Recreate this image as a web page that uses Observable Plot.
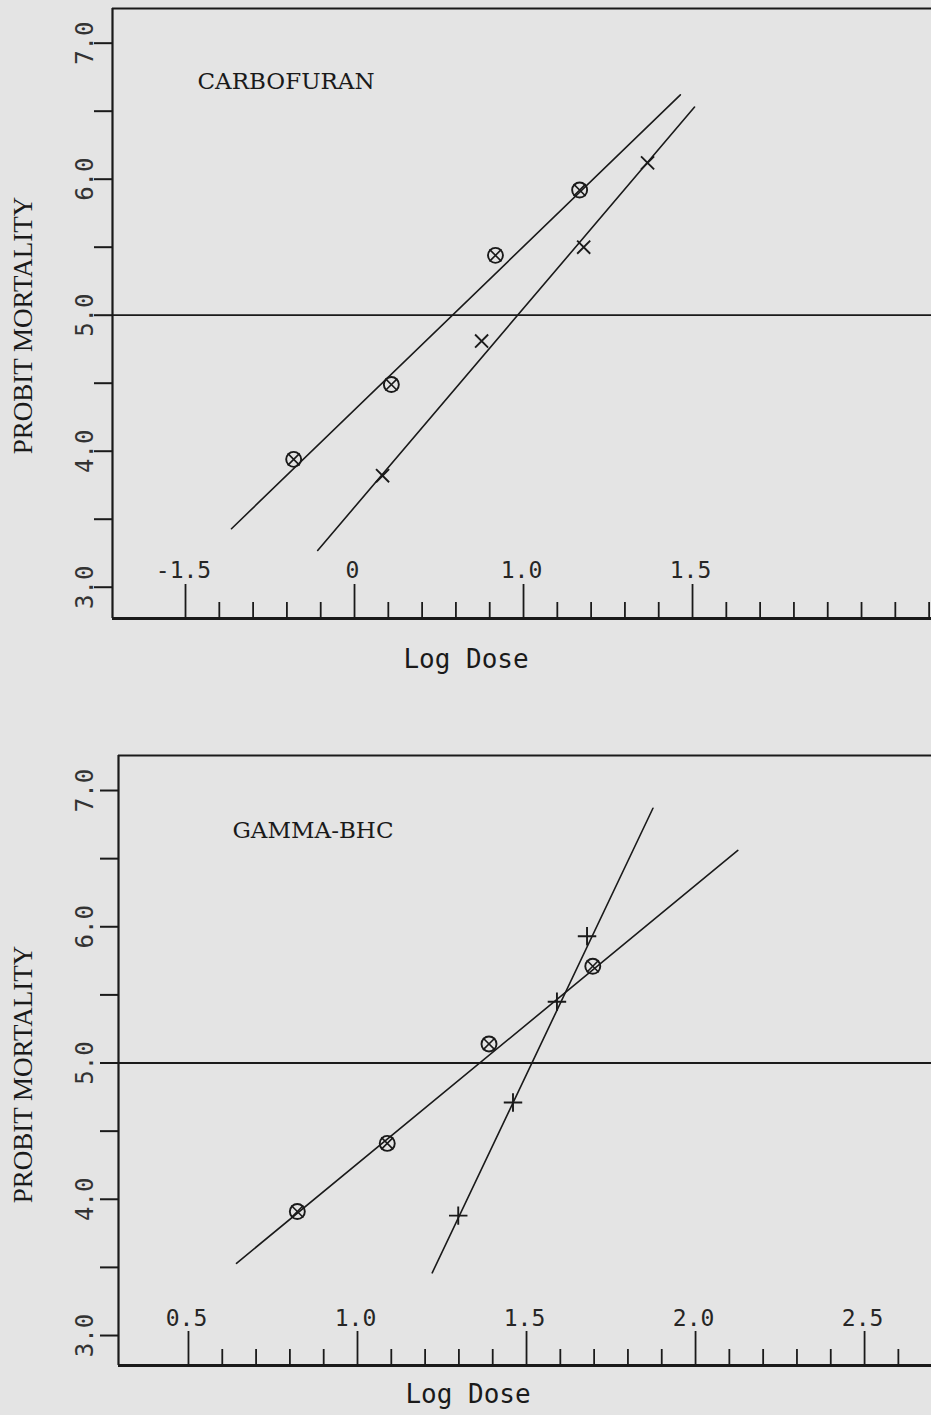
<!DOCTYPE html>
<html><head><meta charset="utf-8">
<script src="https://cdn.jsdelivr.net/npm/d3@7"></script>
<script src="https://cdn.jsdelivr.net/npm/@observablehq/plot@0.6"></script>
<style>
html,body{margin:0;padding:0;background:#e4e4e4;overflow:hidden;}
#page{position:relative;width:931px;height:1415px;overflow:hidden;background:#e4e4e4;}
.chart{position:absolute;left:0;}
</style></head><body>
<div id="page"><div id="top" class="chart" style="top:0px"></div><div id="bot" class="chart" style="top:700px"></div></div>
<script>
// ---------- CARBOFURAN (top chart) ----------
const carboTitle = "CARBOFURAN";
const carboCircleDose = [0.320, 0.609, 0.917, 1.166];
const carboCircleProbit = [3.94, 4.49, 5.44, 5.92];
const carboCrossDose = [0.583, 0.876, 1.178, 1.367];
const carboCrossProbit = [3.82, 4.81, 5.50, 6.12];
const carboCircleLineDose = [0.136, 1.464];
const carboCircleLineProbit = [3.43, 6.62];
const carboCrossLineDose = [0.391, 1.506];
const carboCrossLineProbit = [3.27, 6.53];
const carboXMajor = [0, 0.5, 1.0, 1.5];
const carboXLabels = ["-1.5", "0", "1.0", "1.5"];
const carboXMinor = [0.1,0.2,0.3,0.4,0.6,0.7,0.8,0.9,1.1,1.2,1.3,1.4,1.6,1.7,1.8,1.9,2.0,2.1,2.2];
const carboXDomain = [-0.216, 2.207];

// ---------- GAMMA-BHC (bottom chart) ----------
const bhcTitle = "GAMMA-BHC";
const bhcCircleDose = [0.822, 1.088, 1.389, 1.696];
const bhcCircleProbit = [3.91, 4.41, 5.14, 5.71];
const bhcCrossDose = [1.298, 1.460, 1.590, 1.679];
const bhcCrossProbit = [3.88, 4.71, 5.45, 5.93];
const bhcCircleLineDose = [0.642, 2.125];
const bhcCircleLineProbit = [3.53, 6.56];
const bhcCrossLineDose = [1.221, 1.874];
const bhcCrossLineProbit = [3.46, 6.87];
const bhcXMajor = [0.5, 1.0, 1.5, 2.0, 2.5];
const bhcXLabels = ["0.5", "1.0", "1.5", "2.0", "2.5"];
const bhcXMinor = [0.6,0.7,0.8,0.9,1.1,1.2,1.3,1.4,1.6,1.7,1.8,1.9,2.1,2.2,2.3,2.4,2.6];
const bhcXDomain = [0.293, 2.698];

// ---------- shared axis text ----------
const yTicks = [3.0,3.5,4.0,4.5,5.0,5.5,6.0,6.5,7.0];
const yMajor = [3, 4, 5, 6, 7];
const yLabels = ["3.0", "4.0", "5.0", "6.0", "7.0"];
const yAxisLabel = "PROBIT MORTALITY";
const xAxisLabel = "Log Dose";
const ink = "#1a1a1a";

function chart(cfg) {
  const H = cfg.height - cfg.mt - cfg.mb;
  return Plot.plot({
    width: 931, height: cfg.height,
    marginLeft: cfg.ml, marginRight: 0, marginTop: cfg.mt, marginBottom: cfg.mb,
    style: {background: "transparent", overflow: "visible"},
    x: {domain: cfg.xDomain, axis: null},
    y: {domain: cfg.yDomain, axis: null},
    marks: [
      // left ticks
      Plot.axisY({ticks: yTicks, tickSize: 18, tickFormat: () => "", stroke: ink, strokeWidth: 2, label: null}),
      Plot.text(yMajor, {y: d => d, text: (d, i) => yLabels[i], frameAnchor: "left", dx: cfg.ylDx, rotate: -90,
        textAnchor: "middle", lineAnchor: "middle", fontFamily: "DejaVu Sans Mono", fontSize: 24, fill: "#333"}),
      Plot.text([yAxisLabel], {text: d => d, frameAnchor: "left", dx: cfg.yTitleDx, dy: cfg.yTitleDy, rotate: -90,
        textAnchor: "middle", lineAnchor: "middle", fontFamily: "Liberation Serif", fontSize: 27, fill: ink}),
      // frame
      Plot.ruleX([cfg.xDomain[0]], {stroke: ink, strokeWidth: 2.2}),
      Plot.ruleY([cfg.yDomain[1]], {stroke: ink, strokeWidth: 2}),
      Plot.ruleY([cfg.yDomain[0]], {stroke: ink, strokeWidth: 3}),
      Plot.ruleY([5], {stroke: ink, strokeWidth: 1.8}),
      // bottom axis ticks (pointing up)
      Plot.ruleX(cfg.xMajor, {x: d => d, insetTop: H - 34, stroke: ink, strokeWidth: 1.8}),
      Plot.ruleX(cfg.xMinor, {x: d => d, insetTop: H - 16, stroke: ink, strokeWidth: 1.8}),
      Plot.text(cfg.xMajor, {x: d => d, text: (d, i) => cfg.xLabels[i], frameAnchor: "bottom", dy: cfg.xlDy, dx: -2,
        lineAnchor: "middle", fontFamily: "DejaVu Sans Mono", fontSize: 23, fill: "#262626"}),
      Plot.text([xAxisLabel], {text: d => d, frameAnchor: "bottom", dx: cfg.xTitleDx, dy: cfg.xTitleDy, lineAnchor: "top",
        fontFamily: "DejaVu Sans Mono", fontSize: 26, letterSpacing: "1px", fill: ink}),
      // title
      Plot.text([cfg.title], {text: d => d, frameAnchor: "top-left", dx: cfg.tDx, dy: cfg.tDy, textAnchor: "start",
        lineAnchor: "top", fontFamily: "DejaVu Serif", fontSize: 23, fill: ink}),
      // fitted lines
      Plot.line(cfg.circleLineDose, {x: cfg.circleLineDose, y: cfg.circleLineProbit, stroke: ink, strokeWidth: 1.6}),
      Plot.line(cfg.crossLineDose, {x: cfg.crossLineDose, y: cfg.crossLineProbit, stroke: ink, strokeWidth: 1.6}),
      // observed points
      Plot.dot(cfg.circleDose, {x: cfg.circleDose, y: cfg.circleProbit, r: 7.5, stroke: ink, strokeWidth: 1.9, fill: "none"}),
      Plot.dot(cfg.circleDose, {x: cfg.circleDose, y: cfg.circleProbit, symbol: "times", r: 5.5, stroke: ink, strokeWidth: 1.6}),
      Plot.dot(cfg.crossDose, {x: cfg.crossDose, y: cfg.crossProbit, symbol: cfg.crossSymbol, r: 6, stroke: ink, strokeWidth: 1.9})
    ]
  });
}

document.getElementById("top").append(chart({
  height: 700, ml: 112, mt: 8, mb: 82, xDomain: carboXDomain, yDomain: [2.77, 7.255],
  xMajor: carboXMajor, xMinor: carboXMinor, xLabels: carboXLabels, title: carboTitle,
  circleDose: carboCircleDose, circleProbit: carboCircleProbit, crossDose: carboCrossDose, crossProbit: carboCrossProbit,
  circleLineDose: carboCircleLineDose, circleLineProbit: carboCircleLineProbit,
  crossLineDose: carboCrossLineDose, crossLineProbit: carboCrossLineProbit, crossSymbol: "times",
  ylDx: -27, yTitleDx: -89, yTitleDy: 12, xlDy: -48, xTitleDx: -56, xTitleDy: 31, tDx: 85, tDy: 64
}));
document.getElementById("bot").append(chart({
  height: 715, ml: 118, mt: 55, mb: 50, xDomain: bhcXDomain, yDomain: [2.78, 7.257],
  xMajor: bhcXMajor, xMinor: bhcXMinor, xLabels: bhcXLabels, title: bhcTitle,
  circleDose: bhcCircleDose, circleProbit: bhcCircleProbit, crossDose: bhcCrossDose, crossProbit: bhcCrossProbit,
  circleLineDose: bhcCircleLineDose, circleLineProbit: bhcCircleLineProbit,
  crossLineDose: bhcCrossLineDose, crossLineProbit: bhcCrossLineProbit, crossSymbol: "plus",
  ylDx: -33, yTitleDx: -95, yTitleDy: 14, xlDy: -47, xTitleDx: -57, xTitleDy: 19, tDx: 114, tDy: 66
}));
</script></body></html>
